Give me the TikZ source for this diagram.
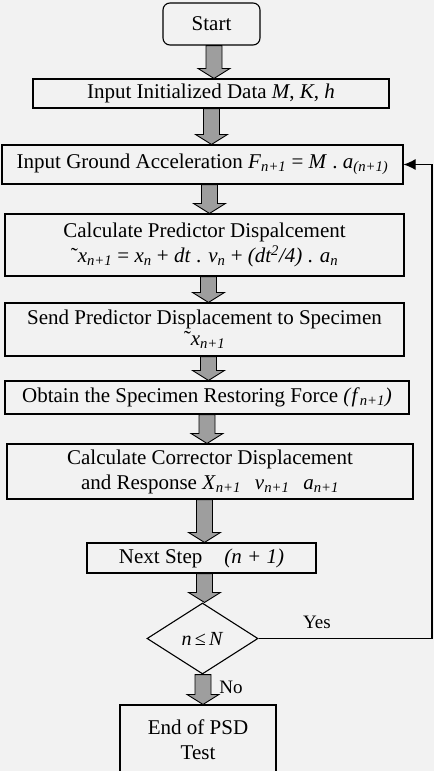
\documentclass[tikz,border=0pt]{standalone}
\usepackage{fontspec}
\setmainfont{Liberation Serif}
\usepackage{xcolor}
\usepackage{tikz}
\usetikzlibrary{positioning, arrows.meta, shapes.geometric, calc}
\definecolor{paper}{HTML}{F2F2F2}
\definecolor{shaft}{HTML}{9E9E9E}
\newcommand{\boxfont}{\fontsize{21}{25}\selectfont}
\newcommand{\sym}[2]{\textit{#1}\textsubscript{\textit{#2}}}
% grey block arrow between two nodes, at a given x (pt)
\newcommand{\blockarrow}[3]{%
  \draw[blockarr] let \p1=(#1.south), \p2=(#2.north) in
    (#3pt-8pt,\y1) -- (#3pt-8pt,\y2+10pt) -- (#3pt-16pt,\y2+10pt) -- (#3pt,\y2)
    -- (#3pt+16pt,\y2+10pt) -- (#3pt+8pt,\y2+10pt) -- (#3pt+8pt,\y1) -- cycle;}
\tikzset{
  procbox/.style={draw, line width=1.1pt, align=center, inner sep=0pt, font=\boxfont},
  decision/.style={draw, diamond, line width=1.1pt, inner sep=0pt, font=\fontsize{20}{24}\selectfont},
  blockarr/.style={line width=0.9pt, fill=shaft, draw=black, line join=miter},
  loopline/.style={line width=1.1pt, -{Latex[length=12pt,width=11pt]}},
  answer/.style={font=\fontsize{19}{22}\selectfont},
}

\begin{document}
\begin{tikzpicture}[x=1pt, y=-1pt]
      \fill[paper] (0,0) rectangle (434,771);
      \clip (0,0) rectangle (434,771);

      % process boxes
      \node[procbox, minimum width=97pt, minimum height=42pt, rounded corners=7pt]
        (start) at (211.5,24) {Start};
      \node[procbox, minimum width=356pt, minimum height=29pt]
        (init) at (211,93.5) {Input Initialized Data \textit{M}, \textit{K}, \textit{h}};
      \node[procbox, minimum width=401pt, minimum height=39pt]
        (ground) at (202.5,164.5)
        {Input Ground Acceleration \sym{F}{n+1} = \textit{M} . \textit{a}\textsubscript{\textit{(n+1)}}};
      \node[procbox, minimum width=399pt, minimum height=62pt]
        (pred) at (204.5,245)
        {Calculate Predictor Dispalcement\\
         ˜\sym{x}{n+1} = \sym{x}{n} + \textit{dt} . \sym{v}{n} + \textit{(dt\textsuperscript{2}/4)} . \sym{a}{n}};
      \node[procbox, minimum width=399pt, minimum height=53pt]
        (send) at (204.5,329.5)
        {Send Predictor Displacement to Specimen\\[-4pt]
         ˜\sym{x}{n+1}};
      \node[procbox, minimum width=404pt, minimum height=33pt]
        (obtain) at (207,397.5)
        {Obtain the Specimen Restoring Force \textit{(}\sym{f}{n+1}\textit{)}};
      \node[procbox, minimum width=406pt, minimum height=55pt]
        (corr) at (210,471.5)
        {Calculate Corrector Displacement\\
         and Response \sym{X}{n+1}\hspace{14pt}\sym{v}{n+1}\hspace{14pt}\sym{a}{n+1}};
      \node[procbox, minimum width=229pt, minimum height=30pt]
        (next) at (201.5,558) {Next Step\hspace{22pt}\textit{(n + 1)}};
      \node[decision, minimum width=111pt, minimum height=71pt]
        (check) at (202.5,638.5) {\textit{n}\,≤\,\textit{N}};
      \node[procbox, minimum width=156pt, minimum height=70pt]
        (stop) at (198,740) {End of PSD\\Test};

      % block arrows
      \blockarrow{start}{init}{214}
      \blockarrow{init}{ground}{211.5}
      \blockarrow{ground}{pred}{209.5}
      \blockarrow{pred}{send}{208.5}
      \blockarrow{send}{obtain}{208.5}
      \blockarrow{obtain}{corr}{207}
      \blockarrow{corr}{next}{204.5}
      \blockarrow{next}{check}{204.5}
      \blockarrow{check}{stop}{203}

      % loop back
      \coordinate (rail) at (432,0);
      \draw[loopline] (check.east) -- (check.east -| rail) |- (ground.east);
      \node[answer] (yes) at (317,622) {Yes};
      \node[answer] (no) at (231,687) {No};
\end{tikzpicture}
\end{document}
